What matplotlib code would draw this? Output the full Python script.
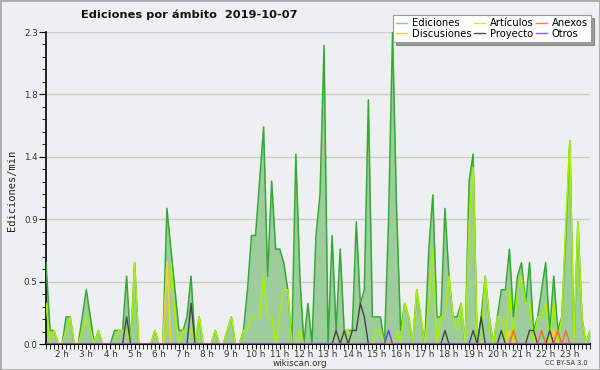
import matplotlib
matplotlib.use("Agg")
import matplotlib.pyplot as plt
from matplotlib.ticker import FixedLocator, MultipleLocator, AutoMinorLocator, FuncFormatter
from matplotlib.patches import Rectangle
import numpy as np

# 10-minute bins starting at 1:20
start_hour = 1 + 20 / 60
bin_hours = 10 / 60

ediciones = [0.6, 0.1, 0.1, 0, 0, 0.2, 0.2, 0, 0, 0.2, 0.4, 0.2, 0, 0.1, 0, 0, 0, 0.1, 0.1, 0.1,
             0.5, 0, 0.6, 0, 0, 0, 0, 0.1, 0, 0, 1.0, 0.7, 0.4, 0.1, 0.1, 0.2, 0.5, 0, 0.2, 0,
             0, 0, 0.1, 0, 0, 0.1, 0.2, 0, 0, 0.1, 0.4, 0.8, 0.8, 1.2, 1.6, 0.5, 1.2, 0.7, 0.7, 0.6,
             0.4, 0, 1.4, 0.5, 0, 0.3, 0, 0.8, 1.1, 2.2, 0, 0.8, 0.1, 0.7, 0.1, 0.1, 0.1, 0.9, 0.3, 0.4,
             1.8, 0.2, 0.2, 0.2, 0, 0.9, 2.3, 1.0, 0.1, 0.3, 0.2, 0, 0.4, 0.2, 0, 0.7, 1.1, 0.2, 0.2, 1.0,
             0.5, 0.2, 0.2, 0.3, 0, 1.2, 1.4, 0, 0.2, 0.5, 0.2, 0, 0.2, 0.4, 0.4, 0.7, 0.2, 0.5, 0.6, 0.3,
             0.6, 0.1, 0.2, 0.4, 0.6, 0.1, 0.5, 0.1, 0.2, 0.8, 1.5, 0, 0.9, 0.2, 0, 0.1]

articulos = [0.3, 0, 0.1, 0, 0, 0.1, 0.2, 0, 0, 0.1, 0.2, 0.1, 0, 0.1, 0, 0, 0, 0, 0.1, 0.1,
             0.1, 0, 0.6, 0, 0, 0, 0, 0.1, 0, 0, 0.1, 0.6, 0.2, 0, 0.1, 0.1, 0.1, 0, 0.2, 0,
             0, 0, 0.1, 0, 0, 0.1, 0.2, 0, 0, 0.1, 0.1, 0.2, 0.2, 0.2, 0.5, 0.2, 0.2, 0, 0.2, 0.4,
             0.4, 0, 0, 0.1, 0, 0, 0, 0, 0, 0, 0, 0, 0, 0, 0.1, 0.1, 0, 0, 0, 0,
             0, 0, 0.1, 0.1, 0, 0, 0, 0.1, 0, 0.3, 0.2, 0, 0.4, 0.2, 0, 0.3, 0.7, 0, 0.2, 0.2,
             0.5, 0.2, 0.1, 0.3, 0, 0.9, 1.3, 0, 0, 0.5, 0.2, 0, 0.2, 0.2, 0, 0.4, 0, 0.4, 0.5, 0.3,
             0.3, 0, 0.2, 0.2, 0.3, 0, 0.3, 0, 0.2, 0.9, 1.5, 0, 0.9, 0.2, 0, 0.1]

n = len(ediciones)
proyecto = [0] * n
for i, v in [(20, 0.2), (36, 0.3), (72, 0.1), (74, 0.1), (76, 0.1), (77, 0.1), (78, 0.3), (79, 0.2),
             (99, 0.1), (106, 0.1), (108, 0.2), (113, 0.1), (120, 0.1), (121, 0.1), (125, 0.1)]:
    proyecto[i] = v
anexos = [0] * n
for i, v in [(116, 0.1), (123, 0.1), (127, 0.1), (129, 0.1)]:
    anexos[i] = v
discusiones = [0] * n
for i, v in [(30, 0.6), (115, 0.1), (126, 0.1)]:
    discusiones[i] = v
otros = [0] * n
otros[85] = 0.1

hours = list(range(2, 24))
hour_labels = ["{} h".format(h) for h in hours]

x = start_hour + bin_hours * np.arange(n)

bg = "#eeeff0"
fig = plt.figure(figsize=(6, 3.7), dpi=100, facecolor=bg)
ax = fig.add_axes([46 / 600, 26 / 370, 544 / 600, 312 / 370])
ax.set_facecolor(bg)

ax.fill_between(x, ediciones, color="#9dcc9d", lw=0, zorder=2)
ax.plot(x, ediciones, color="#33aa33", lw=1.1, zorder=3)
ax.plot(x, articulos, color="#aaee00", lw=1.1, zorder=4)
ax.plot(x, discusiones, color="#ffcc33", lw=1.1, zorder=4)
ax.plot(x, proyecto, color="#444444", lw=1.0, zorder=5)
ax.plot(x, anexos, color="#ff6622", lw=1.0, zorder=5)
ax.plot(x, otros, color="#7733ee", lw=1.0, zorder=5)

ymax = 2.3
ax.set_xlim(x[0], x[-1])
ax.set_ylim(0, ymax)
yt = [ymax * k / 5 for k in range(6)]
ax.yaxis.set_major_locator(FixedLocator(yt))
ax.yaxis.set_major_formatter(FuncFormatter(lambda v, p: "{:.1f}".format(v)))
ax.yaxis.set_minor_locator(AutoMinorLocator(5))
ax.grid(axis="y", color="#cccccc", lw=1, zorder=0)

ax.set_xticks(hours)
ax.set_xticklabels(hour_labels)
ax.xaxis.set_minor_locator(MultipleLocator(bin_hours))

for s in ["top", "right"]:
    ax.spines[s].set_visible(False)
ax.spines["left"].set_linewidth(1.2)
ax.spines["bottom"].set_linewidth(1.5)
ax.tick_params(axis="both", which="both", direction="out", labelsize=6.3, colors="black",
               labelcolor="#333333")
ax.tick_params(axis="y", which="major", length=5, pad=1)
ax.tick_params(axis="y", which="minor", length=3)
ax.tick_params(axis="x", which="major", length=3.5, pad=0.5)
ax.tick_params(axis="x", which="minor", length=3.5)

fig.text(12 / 600, 1 - 190 / 370, "Ediciones/min", rotation=90, ha="center", va="center",
         fontsize=7.5, family="DejaVu Sans Mono", color="#222222")
fig.text(189 / 600, 1 - 15 / 370, "Ediciones por ámbito  2019-10-07", ha="center", va="center",
         fontsize=8.2, fontweight="bold", color="#111111")
fig.text(300 / 600, 1 - 363 / 370, "wikiscan.org", ha="center", va="center", fontsize=6.3,
         color="#333333")
fig.text(566 / 600, 1 - 363 / 370, "CC BY-SA 3.0", ha="center", va="center", fontsize=4.8,
         color="#333333")

names = ["Ediciones", "Discusiones", "Artículos", "Proyecto", "Anexos", "Otros"]
cols = ["#88cc88", "#ffcc44", "#ccee44", "#555555", "#ff7744", "#9955ee"]
handles = [plt.Line2D([], [], color=c, lw=1) for c in cols]
leg = fig.legend(handles, names, ncol=3, loc="upper right", bbox_to_anchor=(0.993, 0.972),
                 fontsize=7.2, handlelength=1.1, handletextpad=0.5, columnspacing=0.2,
                 labelspacing=0.05, borderpad=0.3, frameon=True, fancybox=False, shadow=True)
leg.get_frame().set_facecolor("white")
leg.get_frame().set_edgecolor("#999999")
leg.get_frame().set_linewidth(0.8)

fig.patches.append(Rectangle((0, 0), 1, 1, transform=fig.transFigure, fill=False,
                             edgecolor="#aaaaaa", lw=2))

fig.savefig("out.png", dpi=100, facecolor=bg)
